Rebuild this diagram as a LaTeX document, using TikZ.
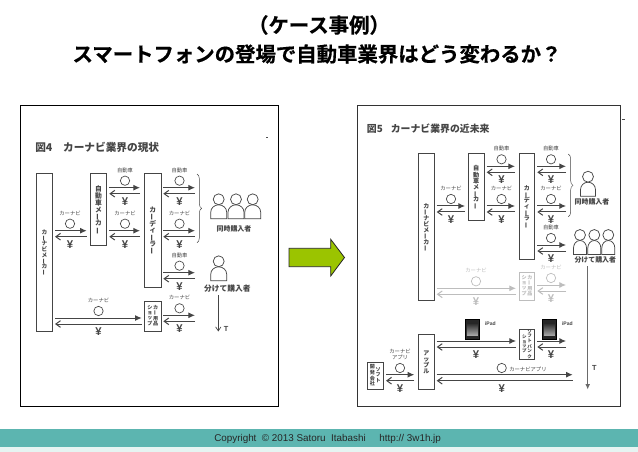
\documentclass[tikz,border=0pt]{standalone}
\usepackage{fontspec}
\setmainfont{Liberation Sans}
\newfontfamily\cjk{Noto Sans CJK JP}
\newfontfamily\cjkheavy[FakeBold=0.5]{Noto Sans CJK JP Bold}
\usetikzlibrary{arrows.meta,positioning,calc,decorations.pathreplacing}
\definecolor{BandTeal}{HTML}{5CB5B0}
\definecolor{BandPale}{HTML}{E6F4F2}
\definecolor{ArrowGreen}{HTML}{9BC400}
\definecolor{InkGrey}{HTML}{454545}
\definecolor{FadeGrey}{HTML}{BDBDBD}
\newcommand{\vbar}{\smash{\rotatebox[origin=c]{90}{ー}}}
\newcommand{\vcol}[1]{\begin{tabular}[c]{@{}c@{}}#1\end{tabular}}
% one pair of flows: name, x1, x2, y, centre x, colour
\newcommand{\flowpair}[6]{
  \coordinate (#1p1) at (#2,#4); \coordinate (#1p2) at (#3,#4);
  \coordinate (#1p3) at (#2,#4+6); \coordinate (#1p4) at (#3,#4+6);
  \draw[flowtop,#6] (#1p1) -- (#1p2);
  \draw[flowback,#6] (#1p4) -- (#1p3);
  \node[yennode,text=#6] (#1yen) at (#5,#4+13.5) {¥};
}
\newcommand{\goods}[5]{
  \node[goodcirc,draw=#5] (#1circ) at (#2,#3-7) {};
  \node[tinylabel,text=#5] (#1text) at (#2,#3-17.5) {#4};
}
% name, x, y, half width of the body
\newcommand{\person}[4]{
  \draw[personline] (#2-#4,#3+19.5) -- (#2-#4,#3+13) to[out=90,in=180] (#2,#3+5.5) to[out=0,in=90] (#2+#4,#3+13) -- (#2+#4,#3+19.5) -- cycle;
  \node[headcirc] (#1) at (#2,#3) {};
}
\begin{document}
\begin{tikzpicture}[x=0.75pt,y=-0.75pt,
  panel/.style={draw=black,line width=0.7pt,fill=white},
  actor/.style={draw=InkGrey,line width=0.55pt,fill=white,anchor=north west,align=center,inner sep=0pt,text=InkGrey},
  flowtop/.style={line width=0.75pt,-{Latex[length=5pt,width=4.5pt]}},
  flowback/.style={line width=0.75pt,-{Straight Barb[length=3.5pt,width=5pt]}},
  yennode/.style={font=\bfseries\fontsize{8.5}{8.5}\selectfont,inner sep=0pt},
  goodcirc/.style={circle,line width=0.5pt,minimum size=7pt,inner sep=0pt},
  headcirc/.style={circle,draw=InkGrey,line width=0.55pt,fill=white,minimum size=8.2pt,inner sep=0pt},
  personline/.style={draw=InkGrey,line width=0.55pt,fill=white},
  tinylabel/.style={font=\cjk\fontsize{4}{4.4}\selectfont,inner sep=0pt,align=center},
  buyerlabel/.style={font=\cjk\bfseries\fontsize{5.2}{5.2}\selectfont,inner sep=0pt,text=InkGrey},
  figtitle/.style={font=\cjk\bfseries\fontsize{8}{8}\selectfont,inner sep=0pt,text=InkGrey,anchor=west},
  bracket/.style={draw=InkGrey,line width=0.35pt,decorate,decoration={brace,amplitude=3.5pt}},
  headline/.style={font=\cjkheavy\fontsize{15.3}{16}\selectfont,inner sep=0pt},
  bigt/.style={font=\bfseries\fontsize{5.5}{6}\selectfont,inner sep=0pt,text=InkGrey},
]
\useasboundingbox (0,0) rectangle (638,452);
\fill[white] (0,0) rectangle (638,452);
\fill[BandPale] (0,446.5) rectangle (638,452);
\fill[BandTeal] (0,428.7) rectangle (638,446.5);
\node[headline] (head1) at (319,25) {（ケース事例）};
\node[headline] (head2) at (317,54) {スマートフォンの登場で自動車業界はどう変わるか？};
\node[font=\fontsize{7.4}{8}\selectfont,inner sep=0pt,text=black!85,anchor=west] (foot) at (214,439) {Copyright\ \ © 2013 Satoru\ \ Itabashi\ \ \ \ \ http:// 3w1h.jp};

% left panel
\node[panel,minimum width=193.8pt,minimum height=225.8pt,anchor=north west] (framea) at (20,105) {};
\node[figtitle] (titlea) at (35,147) {図4\hspace{8pt}カーナビ業界の現状};
\node[actor,minimum width=12.2pt,minimum height=118.5pt,font=\cjk\bfseries\fontsize{4.3}{4.3}\selectfont] (navmakera) at (36,172.7) {カ\\\vbar\\ナ\\ビ\\メ\\\vbar\\カ\\\vbar};
\node[actor,minimum width=12.2pt,minimum height=54.5pt,font=\cjk\bfseries\fontsize{5.1}{5.1}\selectfont] (carmakera) at (90,172.7) {自\\動\\車\\メ\\\vbar\\カ\\\vbar};
\node[actor,minimum width=12.2pt,minimum height=85.5pt,font=\cjk\bfseries\fontsize{5.1}{5.1}\selectfont] (dealera) at (144.3,172.7) {カ\\\vbar\\デ\\ィ\\\vbar\\ラ\\\vbar};
\node[actor,minimum width=12.2pt,minimum height=22pt,font=\cjk\bfseries\fontsize{3.8}{3.8}\selectfont] (shopa) at (144.3,301.3) {\vcol{シ\\ョ\\ッ\\プ}\hspace{0.6pt}\vcol{カ\\\vbar\\用\\品}};
\flowpair{fa}{55}{86.7}{230.7}{70}{InkGrey}  \goods{fa}{70}{230.7}{カーナビ}{InkGrey}
\flowpair{fb}{109.3}{140}{187.7}{125}{InkGrey} \goods{fb}{125}{187.7}{自動車}{InkGrey}
\flowpair{fc}{109.3}{140}{230.7}{125}{InkGrey} \goods{fc}{125}{230.7}{カーナビ}{InkGrey}
\flowpair{fd}{163.3}{195}{187.7}{179.5}{InkGrey} \goods{fd}{179.5}{187.7}{自動車}{InkGrey}
\flowpair{fe}{163.3}{195}{230.7}{179.5}{InkGrey} \goods{fe}{179.5}{230.7}{カーナビ}{InkGrey}
\flowpair{ff}{163.3}{195}{272.7}{179.5}{InkGrey} \goods{ff}{179.5}{272.7}{自動車}{InkGrey}
\flowpair{fg}{55}{141.7}{318}{98.5}{InkGrey} \goods{fg}{98.5}{318}{カーナビ}{InkGrey}
\flowpair{fh}{163.3}{195}{315.3}{179.5}{InkGrey} \goods{fh}{179.5}{315.3}{カーナビ}{InkGrey}
\coordinate (bracea1) at (197,174); \coordinate (bracea2) at (197,242.7);
\draw[bracket] (bracea1) -- (bracea2);
\person{buya1}{218.7}{199.3}{8}
\person{buya2}{236}{199.3}{8}
\person{buya3}{252.7}{199.3}{8}
\node[buyerlabel] (samea) at (234,228.7) {同時購入者};
\person{buya4}{218.7}{261.3}{8}
\node[buyerlabel,font=\cjk\bfseries\fontsize{5.8}{5.8}\selectfont] (splita) at (227.3,288.7) {分けて購入者};
\coordinate (tstarta) at (218.3,295); \coordinate (tenda) at (218.3,331.5);
\draw[line width=0.5pt,InkGrey,-{Straight Barb[length=3pt,width=4pt]}] (tstarta) -- (tenda);
\node[bigt] (ta) at (226,329) {T};
\coordinate (ticka1) at (266,137); \coordinate (ticka2) at (268,137);
\draw[black!70,line width=0.4pt] (ticka1) -- (ticka2);

% the arrow between the panels
\draw[draw=black!85,line width=0.6pt,fill=ArrowGreen] (289,248.3) -- (330.7,248.3) -- (330.7,239.3) -- (344.5,257.5) -- (330.7,276) -- (330.7,266.7) -- (289,266.7) -- cycle;

% right panel
\node[panel,draw=black!80,minimum width=197.4pt,minimum height=225.8pt,anchor=north west] (frameb) at (356.7,105) {};
\node[figtitle,font=\cjk\bfseries\fontsize{7.4}{8}\selectfont] (titleb) at (366.7,128.7) {図5\hspace{6pt}カーナビ業界の近未来};
\node[actor,minimum width=11.4pt,minimum height=110.5pt,font=\cjk\bfseries\fontsize{4.5}{4.5}\selectfont] (navmakerb) at (418.3,152.7) {カ\\\vbar\\ナ\\ビ\\メ\\\vbar\\カ\\\vbar};
\node[actor,minimum width=11.4pt,minimum height=50.5pt,font=\cjk\bfseries\fontsize{4.6}{4.6}\selectfont] (carmakerb) at (468.3,152.7) {自\\動\\車\\メ\\\vbar\\カ\\\vbar};
\node[actor,minimum width=11.4pt,minimum height=79.5pt,font=\cjk\bfseries\fontsize{4.5}{4.5}\selectfont] (dealerb) at (519,152.7) {カ\\\vbar\\デ\\ィ\\\vbar\\ラ\\\vbar};
\node[actor,draw=FadeGrey,text=FadeGrey,minimum width=11.4pt,minimum height=21pt,font=\cjk\bfseries\fontsize{3.8}{3.8}\selectfont] (shopb) at (519,272) {\vcol{シ\\ョ\\ッ\\プ}\hspace{0.6pt}\vcol{カ\\\vbar\\用\\品}};
\node[actor,minimum width=11.4pt,minimum height=41.5pt,font=\cjk\bfseries\fontsize{4.5}{4.5}\selectfont] (appleb) at (418.3,334) {ア\\ッ\\プ\\ル};
\node[actor,minimum width=11.4pt,minimum height=21pt,font=\cjk\bfseries\fontsize{3.4}{3.4}\selectfont] (softb) at (519,329.3) {\vcol{シ\\ョ\\ッ\\プ}\hspace{0.6pt}\vcol{ソ\\フ\\ト\\バ\\ン\\ク}};
\node[actor,minimum width=11.4pt,minimum height=20.6pt,font=\cjk\bfseries\fontsize{3.8}{3.8}\selectfont] (devb) at (367.3,361.7) {\vcol{開\\発\\会\\社}\hspace{0.6pt}\vcol{ソ\\フ\\ト}};
\flowpair{ga}{436.7}{465}{206}{451}{InkGrey} \goods{ga}{451}{206}{カーナビ}{InkGrey}
\flowpair{gb}{486.7}{515}{166.3}{501.5}{InkGrey} \goods{gb}{501.5}{166.3}{自動車}{InkGrey}
\flowpair{gc}{486.7}{515}{206}{501.5}{InkGrey} \goods{gc}{501.5}{206}{カーナビ}{InkGrey}
\flowpair{gd}{537.3}{566}{166.3}{551}{InkGrey} \goods{gd}{551}{166.3}{自動車}{InkGrey}
\flowpair{ge}{537.3}{566}{206}{551}{InkGrey} \goods{ge}{551}{206}{カーナビ}{InkGrey}
\flowpair{gf}{537.3}{566}{245}{551}{InkGrey} \goods{gf}{551}{245}{自動車}{InkGrey}
\flowpair{gg}{436.7}{516}{288.3}{476}{FadeGrey} \goods{gg}{476}{288.3}{カーナビ}{FadeGrey}
\flowpair{gh}{537.3}{566}{285}{551}{FadeGrey} \goods{gh}{551}{285}{カーナビ}{FadeGrey}
\flowpair{gi}{436.7}{516}{341}{476}{InkGrey}
\flowpair{gj}{537.3}{566}{341}{551}{InkGrey}
\flowpair{gk}{386}{414.3}{374.7}{400}{InkGrey}
\node[goodcirc,draw=InkGrey] (gkcirc) at (400,368) {};
\node[tinylabel,text=InkGrey] (gktext) at (400,354) {カーナビ\\アプリ};
\flowpair{gl}{436.7}{572.7}{374.7}{501.7}{InkGrey}
\node[goodcirc,draw=InkGrey] (glcirc) at (501.7,368) {};
\node[tinylabel,text=InkGrey,anchor=west] (gltext) at (509,369) {カーナビアプリ};
\foreach \ipadx/\ipadn in {472.3/a,549.3/b}{
  \node[draw=black,line width=0.4pt,fill=black!85,minimum width=11pt,minimum height=15pt,inner sep=0pt] (ipad\ipadn) at (\ipadx,329.3) {};
  \fill[top color=black!85,bottom color=black!35] (\ipadx-5.5,323) rectangle (\ipadx+5.5,335);
  \node[font=\bfseries\fontsize{3.8}{4}\selectfont,inner sep=0pt,text=InkGrey,anchor=west] (ipadlabel\ipadn) at (\ipadx+12.5,323.5) {iPad};
}
\coordinate (braceb1) at (568.3,154); \coordinate (braceb2) at (568.3,216.7);
\draw[bracket] (braceb1) -- (braceb2);
\person{buyb1}{588}{176.7}{7.5}
\node[buyerlabel] (sameb) at (592,202) {同時購入者};
\person{buyb2}{580}{235}{6.5}
\person{buyb3}{594.3}{235}{6.5}
\person{buyb4}{608.3}{235}{6.5}
\node[buyerlabel] (splitb) at (595.3,260) {分けて購入者};
\coordinate (tstartb) at (587.7,266); \coordinate (tendb) at (587.7,389.5);
\draw[line width=0.7pt,InkGrey!80,-{Latex[length=4pt,width=3.5pt]}] (tstartb) -- (tendb);
\node[bigt] (tb) at (594.3,368) {T};
\coordinate (tickb1) at (622,119); \coordinate (tickb2) at (625,119);
\draw[black!70,line width=0.4pt] (tickb1) -- (tickb2);
\end{tikzpicture}
\end{document}
